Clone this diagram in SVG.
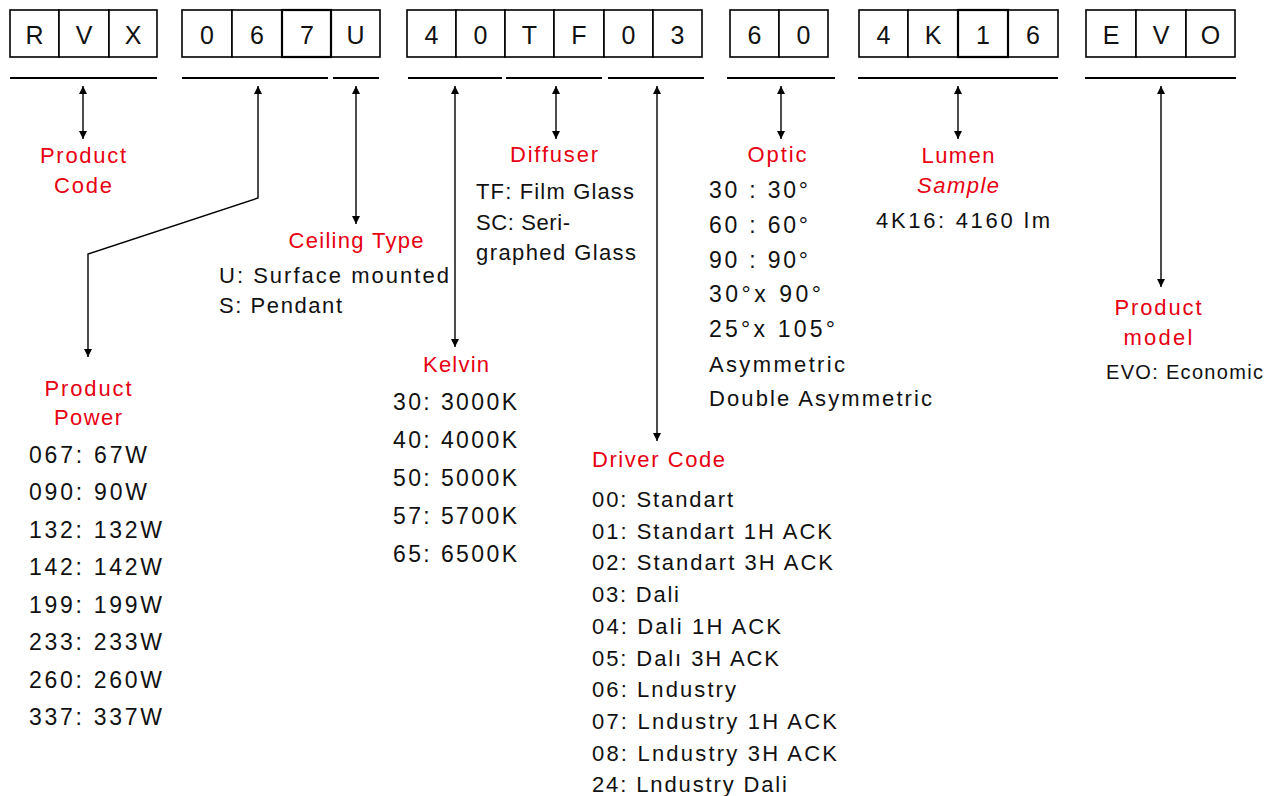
<svg xmlns="http://www.w3.org/2000/svg" width="1277" height="796" viewBox="0 0 1277 796">
<style>
  .cell{fill:#fff;stroke:#000;stroke-width:1.6}
  .thick{fill:none;stroke:#000;stroke-width:2.2}
  .ch{font-family:"Liberation Sans",Arial,sans-serif;font-size:25px;fill:#111;text-anchor:middle}
  .ul{stroke:#000;stroke-width:2.2}
  .con{fill:none;stroke:#000;stroke-width:1.4}
  .hd{font-family:"Liberation Sans",Arial,sans-serif;font-size:22px;fill:#e60012;text-anchor:middle}
  .hl{font-family:"Liberation Sans",Arial,sans-serif;font-size:22px;fill:#e60012}
  .it{font-style:italic}
  .tx{font-family:"Liberation Sans",Arial,sans-serif;font-size:23px;fill:#111}
  .sm{font-size:20px}
  .dr{font-size:22px}
</style>
<defs>
  <marker id="ah" viewBox="0 0 10 10" refX="10" refY="5" markerWidth="9" markerHeight="8" markerUnits="userSpaceOnUse" orient="auto-start-reverse">
    <path d="M0,0 L10,5 L0,10 z" fill="#000"/>
  </marker>
</defs>

<g id="code-boxes">
  <g id="box-rvx">
    <rect class="cell" x="10" y="10" width="49" height="47"/><rect class="cell" x="59" y="10" width="50" height="47"/><rect class="cell" x="109" y="10" width="48" height="47"/>
    <text class="ch" x="34.5" y="44">R</text><text class="ch" x="84" y="44">V</text><text class="ch" x="133" y="44">X</text>
  </g>
  <g id="box-067u">
    <rect class="cell" x="182" y="10" width="50" height="47"/><rect class="cell" x="232" y="10" width="50" height="47"/><rect class="cell" x="282" y="10" width="49" height="47"/><rect class="cell" x="331" y="10" width="49" height="47"/>
    <rect class="thick" x="282" y="10" width="49" height="47"/>
    <text class="ch" x="207" y="44">0</text><text class="ch" x="257" y="44">6</text><text class="ch" x="307" y="44">7</text><text class="ch" x="355.5" y="44">U</text>
  </g>
  <g id="box-40tf03">
    <rect class="cell" x="407" y="10" width="49" height="47"/><rect class="cell" x="456" y="10" width="49" height="47"/><rect class="cell" x="505" y="10" width="49" height="47"/><rect class="cell" x="554" y="10" width="50" height="47"/><rect class="cell" x="604" y="10" width="49" height="47"/><rect class="cell" x="653" y="10" width="49" height="47"/>
    <text class="ch" x="431.5" y="44">4</text><text class="ch" x="480.5" y="44">0</text><text class="ch" x="529.5" y="44">T</text><text class="ch" x="579" y="44">F</text><text class="ch" x="628.5" y="44">0</text><text class="ch" x="677.5" y="44">3</text>
  </g>
  <g id="box-60">
    <rect class="cell" x="730" y="10" width="49" height="47"/><rect class="cell" x="779" y="10" width="49" height="47"/>
    <text class="ch" x="754.5" y="44">6</text><text class="ch" x="803.5" y="44">0</text>
  </g>
  <g id="box-4k16">
    <rect class="cell" x="859" y="10" width="49" height="47"/><rect class="cell" x="908" y="10" width="50" height="47"/><rect class="cell" x="958" y="10" width="50" height="47"/><rect class="cell" x="1008" y="10" width="50" height="47"/>
    <rect class="thick" x="958" y="10" width="50" height="47"/>
    <text class="ch" x="883.5" y="44">4</text><text class="ch" x="933" y="44">K</text><text class="ch" x="983" y="44">1</text><text class="ch" x="1033" y="44">6</text>
  </g>
  <g id="box-evo">
    <rect class="cell" x="1086" y="10" width="50" height="47"/><rect class="cell" x="1136" y="10" width="50" height="47"/><rect class="cell" x="1186" y="10" width="49" height="47"/>
    <text class="ch" x="1111" y="44">E</text><text class="ch" x="1161" y="44">V</text><text class="ch" x="1210.5" y="44">O</text>
  </g>
</g>

<g id="connectors">
  <line class="ul" x1="10" y1="78" x2="157" y2="78"/>
  <line class="ul" x1="182" y1="78" x2="328" y2="78"/>
  <line class="ul" x1="333" y1="78" x2="379" y2="78"/>
  <line class="ul" x1="408" y1="78" x2="502" y2="78"/>
  <line class="ul" x1="506" y1="78" x2="602" y2="78"/>
  <line class="ul" x1="608" y1="78" x2="704" y2="78"/>
  <line class="ul" x1="727" y1="78" x2="835" y2="78"/>
  <line class="ul" x1="858" y1="78" x2="1058" y2="78"/>
  <line class="ul" x1="1085" y1="78" x2="1236" y2="78"/>

  <path class="con" d="M83,86 L83,139" marker-start="url(#ah)" marker-end="url(#ah)"/>
  <path class="con" d="M258,86 L258,198 L88,254 L88,357" marker-start="url(#ah)" marker-end="url(#ah)"/>
  <path class="con" d="M356,86 L356,224" marker-start="url(#ah)" marker-end="url(#ah)"/>
  <path class="con" d="M455,86 L455,347" marker-start="url(#ah)" marker-end="url(#ah)"/>
  <path class="con" d="M556,86 L556,139" marker-start="url(#ah)" marker-end="url(#ah)"/>
  <path class="con" d="M657,86 L657,441" marker-start="url(#ah)" marker-end="url(#ah)"/>
  <path class="con" d="M781,86 L781,139" marker-start="url(#ah)" marker-end="url(#ah)"/>
  <path class="con" d="M958,86 L958,139" marker-start="url(#ah)" marker-end="url(#ah)"/>
  <path class="con" d="M1161,86 L1161,287" marker-start="url(#ah)" marker-end="url(#ah)"/>
</g>

<g id="product-code">
  <text class="hd" x="83" y="163" textLength="86" lengthAdjust="spacing">Product</text>
  <text class="hd" x="83" y="193" textLength="58" lengthAdjust="spacing">Code</text>
</g>

<g id="product-power">
  <text class="hd" x="88" y="396" textLength="87" lengthAdjust="spacing">Product</text>
  <text class="hd" x="88" y="425" textLength="68" lengthAdjust="spacing">Power</text>
  <text class="tx" x="29" y="463" textLength="118" lengthAdjust="spacing">067: 67W</text>
  <text class="tx" x="29" y="500" textLength="118" lengthAdjust="spacing">090: 90W</text>
  <text class="tx" x="29" y="538" textLength="133" lengthAdjust="spacing">132: 132W</text>
  <text class="tx" x="29" y="575" textLength="133" lengthAdjust="spacing">142: 142W</text>
  <text class="tx" x="29" y="613" textLength="133" lengthAdjust="spacing">199: 199W</text>
  <text class="tx" x="29" y="650" textLength="133" lengthAdjust="spacing">233: 233W</text>
  <text class="tx" x="29" y="688" textLength="133" lengthAdjust="spacing">260: 260W</text>
  <text class="tx" x="29" y="725" textLength="133" lengthAdjust="spacing">337: 337W</text>
</g>

<g id="ceiling-type">
  <text class="hd" x="356" y="248" textLength="135" lengthAdjust="spacing">Ceiling Type</text>
  <text class="tx dr" x="219" y="283" textLength="230" lengthAdjust="spacing">U: Surface mounted</text>
  <text class="tx dr" x="219" y="313" textLength="123" lengthAdjust="spacing">S: Pendant</text>
</g>

<g id="kelvin">
  <text class="hd" x="456" y="372" textLength="66" lengthAdjust="spacing">Kelvin</text>
  <text class="tx" x="393" y="410" textLength="124" lengthAdjust="spacing">30: 3000K</text>
  <text class="tx" x="393" y="448" textLength="124" lengthAdjust="spacing">40: 4000K</text>
  <text class="tx" x="393" y="486" textLength="124" lengthAdjust="spacing">50: 5000K</text>
  <text class="tx" x="393" y="524" textLength="124" lengthAdjust="spacing">57: 5700K</text>
  <text class="tx" x="393" y="562" textLength="124" lengthAdjust="spacing">65: 6500K</text>
</g>

<g id="diffuser">
  <text class="hd" x="554" y="162" textLength="88" lengthAdjust="spacing">Diffuser</text>
  <text class="tx dr" x="476" y="199" textLength="158" lengthAdjust="spacing">TF: Film Glass</text>
  <text class="tx dr" x="476" y="230" textLength="94" lengthAdjust="spacing">SC: Seri-</text>
  <text class="tx dr" x="476" y="260" textLength="160" lengthAdjust="spacing">graphed Glass</text>
</g>

<g id="driver-code">
  <text class="hl" x="592" y="467" textLength="133" lengthAdjust="spacing">Driver Code</text>
  <text class="tx dr" x="592" y="507" textLength="141" lengthAdjust="spacing">00: Standart</text>
  <text class="tx dr" x="592" y="539" textLength="240" lengthAdjust="spacing">01: Standart 1H ACK</text>
  <text class="tx dr" x="592" y="570" textLength="241" lengthAdjust="spacing">02: Standart 3H ACK</text>
  <text class="tx dr" x="592" y="602" textLength="87" lengthAdjust="spacing">03: Dali</text>
  <text class="tx dr" x="592" y="634" textLength="189" lengthAdjust="spacing">04: Dali 1H ACK</text>
  <text class="tx dr" x="592" y="666" textLength="187" lengthAdjust="spacing">05: Dalı 3H ACK</text>
  <text class="tx dr" x="592" y="697" textLength="144" lengthAdjust="spacing">06: Lndustry</text>
  <text class="tx dr" x="592" y="729" textLength="245" lengthAdjust="spacing">07: Lndustry 1H ACK</text>
  <text class="tx dr" x="592" y="761" textLength="245" lengthAdjust="spacing">08: Lndustry 3H ACK</text>
  <text class="tx dr" x="592" y="792" textLength="195" lengthAdjust="spacing">24: Lndustry Dali</text>
</g>

<g id="optic">
  <text class="hd" x="777" y="162" textLength="59" lengthAdjust="spacing">Optic</text>
  <text class="tx" x="709" y="198" textLength="99" lengthAdjust="spacing">30 : 30°</text>
  <text class="tx" x="709" y="233" textLength="99" lengthAdjust="spacing">60 : 60°</text>
  <text class="tx" x="709" y="268" textLength="99" lengthAdjust="spacing">90 : 90°</text>
  <text class="tx" x="709" y="302" textLength="112" lengthAdjust="spacing">30°x 90°</text>
  <text class="tx" x="709" y="337" textLength="126" lengthAdjust="spacing">25°x 105°</text>
  <text class="tx dr" x="709" y="372" textLength="136" lengthAdjust="spacing">Asymmetric</text>
  <text class="tx dr" x="709" y="406" textLength="223" lengthAdjust="spacing">Double Asymmetric</text>
</g>

<g id="lumen">
  <text class="hd" x="958" y="163" textLength="73" lengthAdjust="spacing">Lumen</text>
  <text class="hd it" x="958" y="193" textLength="82" lengthAdjust="spacing">Sample</text>
  <text class="tx dr" x="876" y="228" textLength="174" lengthAdjust="spacing">4K16: 4160 lm</text>
</g>

<g id="product-model">
  <text class="hd" x="1158" y="315" textLength="87" lengthAdjust="spacing">Product</text>
  <text class="hd" x="1158" y="345" textLength="69" lengthAdjust="spacing">model</text>
  <text class="tx sm" x="1106" y="379" textLength="157" lengthAdjust="spacing">EVO: Economic</text>
</g>
</svg>
